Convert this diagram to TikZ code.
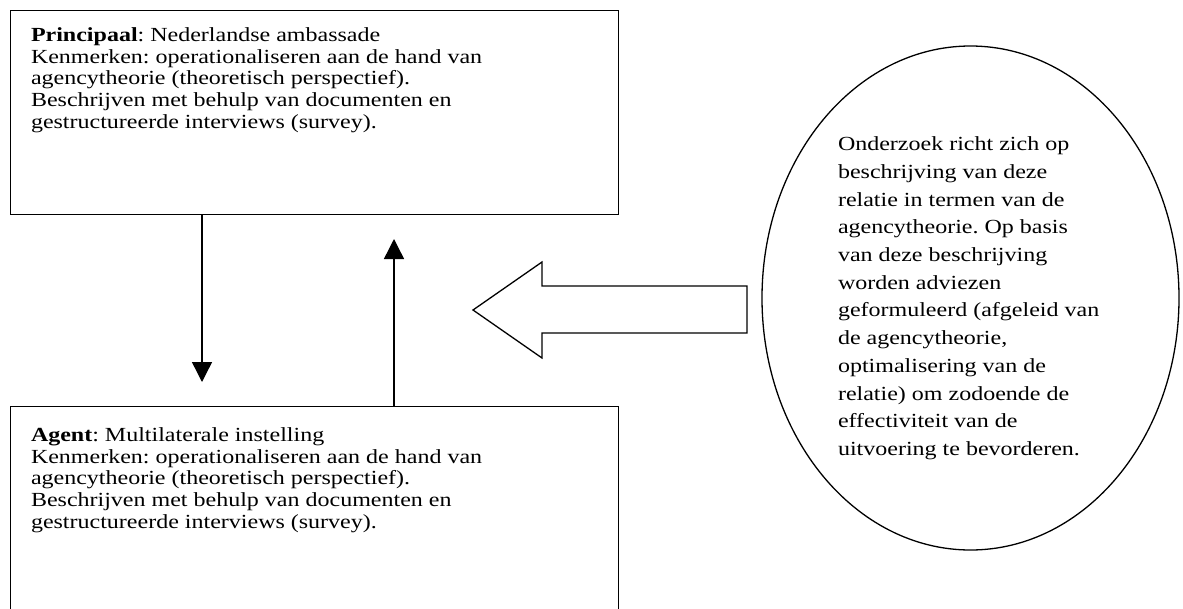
\documentclass[tikz,border=0pt]{standalone}
\usepackage{fontspec}
\setmainfont{Liberation Serif}[FakeStretch=1.2]
\usetikzlibrary{arrows.meta,shapes.geometric}
\frenchspacing
\tikzset{
  frame/.style={draw=black, line width=1.4pt, fill=none, inner sep=0pt},
  para/.style={anchor=base west, inner sep=0pt, outer sep=0pt},
  conn/.style={draw=black, line width=1.4pt, -{Triangle[length=20pt,width=20pt]}},
  bigarrow/.style={draw=black, line width=1.3pt, line join=miter, fill=white}
}
\newcommand{\boxtext}[1]{\parbox[t]{580pt}{\raggedright\frenchspacing\fontsize{20}{21.6}\selectfont #1}}
\newcommand{\elltext}[1]{\parbox[t]{330pt}{\raggedright\frenchspacing\fontsize{20}{27.7}\selectfont #1}}
\begin{document}
\begin{tikzpicture}[x=1pt,y=-1pt]
\useasboundingbox (0,0) rectangle (1183,608);
\fill[white] (0,0) rectangle (1183,608);
% boxes
\node[frame, anchor=north west, minimum width=608pt, minimum height=204pt] (principaal) at (10,10) {};
\node[frame, anchor=north west, minimum width=608pt, minimum height=212pt] (agent) at (10,406) {};
\node[para] (ptext) at (31,41.7) {\boxtext{\textbf{Principaal}: Nederlandse ambassade\\
Kenmerken: operationaliseren aan de hand van\\
agencytheorie (theoretisch perspectief).\\
Beschrijven met behulp van documenten en\\
gestructureerde interviews (survey).}};
\node[para] (atext) at (31,441.7) {\boxtext{\textbf{Agent}: Multilaterale instelling\\
Kenmerken: operationaliseren aan de hand van\\
agencytheorie (theoretisch perspectief).\\
Beschrijven met behulp van documenten en\\
gestructureerde interviews (survey).}};
% ellipse
\node[draw=black, line width=1.3pt, ellipse, inner sep=0pt, minimum width=417pt, minimum height=504pt] (onderzoek) at (970.5,298) {};
\node[para] (otext) at (838,150.7) {\elltext{Onderzoek richt zich op\\
beschrijving van deze\\
relatie in termen van de\\
agencytheorie. Op basis\\
van deze beschrijving\\
worden adviezen\\
geformuleerd (afgeleid van\\
de agencytheorie,\\
optimalisering van de\\
relatie) om zodoende de\\
effectiviteit van de\\
uitvoering te bevorderen.}};
% connectors between boxes
\coordinate (downtip) at (202,382);
\coordinate (uptip) at (394,239);
\draw[conn] (principaal.south west -| downtip) -- (downtip);
\draw[conn] (agent.north west -| uptip) -- (uptip);
% big block arrow
\draw[bigarrow] (473,310) -- (542,262) -- (542,286) -- (747,286) -- (747,333) -- (542,333) -- (542,358) -- cycle;
\end{tikzpicture}
\end{document}
